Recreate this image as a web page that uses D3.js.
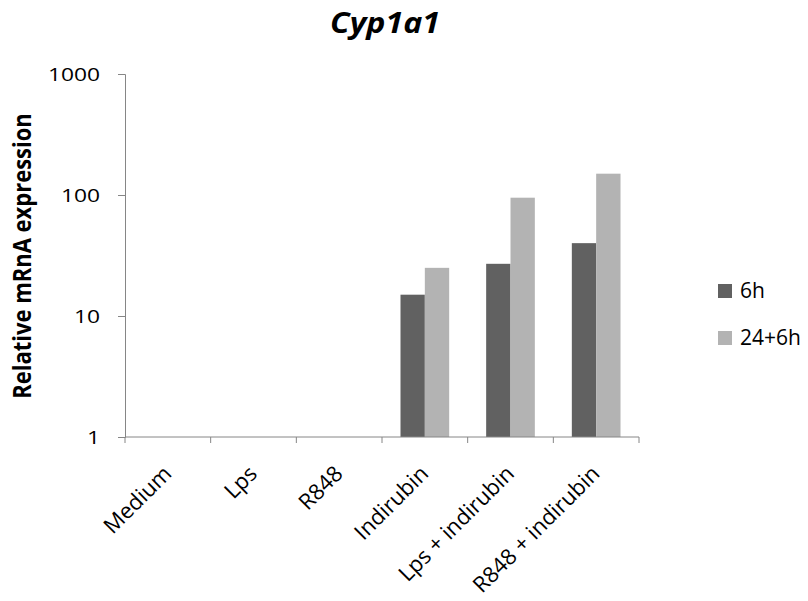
<!DOCTYPE html>
<html>
<head>
<meta charset="utf-8">
<script src="https://cdn.jsdelivr.net/npm/d3@7"></script>
<style>
  html, body { margin: 0; padding: 0; background: #fff; }
  svg text { font-family: "Open Sans", "Lato", sans-serif; fill: #000; }
</style>
</head>
<body>
<svg id="chart" width="808" height="601"></svg>
<script>
// Treatments and the two sampling times
const categories = ["Medium", "Lps", "R848", "Indirubin", "Lps + indirubin", "R848 + indirubin"];
const seriesNames = ["6h", "24+6h"];
const values6h = [1, 1, 1, 15, 27, 40];
const values24h = [1, 1, 1, 25, 95, 150];
const yTicks = [1, 10, 100, 1000];
const colors = ["#616161", "#b3b3b3"];

const svg = d3.select("#chart");
const margin = { left: 125, right: 169, top: 74, bottom: 164 };
const W = 808, H = 601;

const x0 = d3.scaleBand().domain(categories).range([margin.left, W - margin.right]).paddingInner(0).paddingOuter(0);
const x1 = d3.scaleBand().domain(seriesNames).range([0, x0.bandwidth()]).paddingInner(0).paddingOuter(0.76);
const y = d3.scaleLog().domain([1, 1000]).range([H - margin.bottom, margin.top]);

const rows = categories.map((c, i) => ({ cat: c, vals: [values6h[i], values24h[i]] }));

// Bars
const g = svg.append("g");
g.selectAll("g.grp").data(rows).join("g")
  .attr("class", "grp")
  .attr("transform", d => `translate(${x0(d.cat)},0)`)
  .selectAll("rect").data(d => d.vals.map((v, k) => ({ v, k })))
  .join("rect")
  .attr("x", d => x1(seriesNames[d.k]))
  .attr("width", x1.bandwidth())
  .attr("y", d => y(d.v))
  .attr("height", d => y(1) - y(d.v))
  .attr("fill", d => colors[d.k]);

// Y axis
const yAxis = d3.axisLeft(y).tickValues(yTicks).tickFormat(d3.format("d")).tickSize(7);
const ya = svg.append("g").attr("transform", `translate(${margin.left},0)`).call(yAxis);
ya.select(".domain").attr("stroke", "#868686");
ya.selectAll(".tick line").attr("stroke", "#868686");
ya.selectAll(".tick text")
  .attr("x", 0)
  .attr("font-size", 19)
  .attr("fill", "#000")
  .attr("transform", "translate(-25,0) scale(1.2,1)");

// X axis with ticks at category boundaries
const base = y(1);
const xa = svg.append("g");
xa.append("line").attr("x1", margin.left).attr("x2", W - margin.right)
  .attr("y1", base).attr("y2", base).attr("stroke", "#868686");
const bounds = categories.map(c => x0(c)).concat([x0(categories[categories.length - 1]) + x0.bandwidth()]);
xa.selectAll("line.tk").data(bounds).join("line").attr("class", "tk")
  .attr("x1", d => d).attr("x2", d => d).attr("y1", base).attr("y2", base + 6)
  .attr("stroke", "#868686");
xa.selectAll("text").data(categories).join("text")
  .attr("transform", d => `translate(${x0(d) + x0.bandwidth() / 2 + 5},${base + 38}) rotate(-45)`)
  .attr("text-anchor", "end")
  .attr("font-size", 22)
  .text(d => d);

// Title
svg.append("text").attr("transform", "translate(385,33) scale(1.15,1)").attr("text-anchor", "middle")
  .attr("font-size", 28).attr("font-weight", "bold").attr("font-style", "italic").text("Cyp1a1");

// Y axis title
svg.append("text").attr("transform", "translate(31,256) scale(1.1,1) rotate(-90)")
  .attr("text-anchor", "middle").attr("font-size", 22).attr("font-weight", "bold")
  .text("Relative mRnA expression");

// Legend
const leg = svg.append("g").attr("transform", "translate(718,284)");
seriesNames.forEach((s, i) => {
  leg.append("rect").attr("x", 0).attr("y", i * 47).attr("width", 14).attr("height", 14).attr("fill", colors[i]);
  leg.append("text").attr("x", 22).attr("y", i * 47 + 14).attr("font-size", 21).text(s);
});
</script>
</body>
</html>
